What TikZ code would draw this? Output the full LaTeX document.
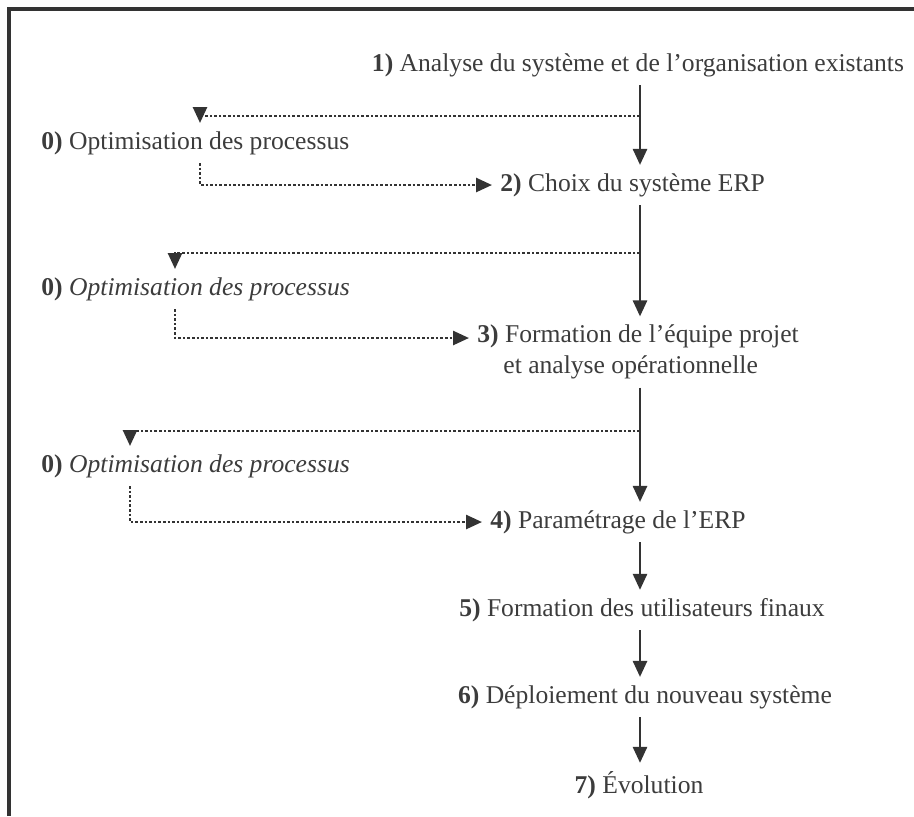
\documentclass[tikz,border=0pt]{standalone}
\usepackage{fontspec}
\setmainfont{Liberation Serif}
\usepackage{tikz}
\usetikzlibrary{arrows.meta, calc}

\definecolor{ink}{HTML}{3C3C3C}
\definecolor{wire}{HTML}{333333}

\begin{document}
\begin{tikzpicture}[
		x=0.5pt, y=-0.5pt,
		txt/.style={text=ink, font=\fontsize{12.8}{15.5}\selectfont, inner sep=4pt},
		flow/.style={wire, line width=1.3pt, -{Triangle[length=8pt, width=7pt]}},
		loop/.style={wire, line width=1.3pt, densely dotted, -{Triangle[length=8pt, width=7pt]}}
	]
	\useasboundingbox (0, 0) rectangle (914, 816);
	\draw[wire, line width=1.6pt] (9, 816) -- (9, 9) -- (914, 9);
	
	\coordinate (axis) at (640, 0);
	
	\node[txt] (s1) at (638, 65) {\textbf{1)} Analyse du système et de l’organisation existants};
	\node[txt, anchor=west] (o1) at (33, 143) {\textbf{0)} Optimisation des processus};
	\node[txt, anchor=west] (s2) at (492, 185) {\textbf{2)} Choix du système ERP};
	\node[txt, anchor=west] (o2) at (33, 289) {\textbf{0)} \textit{Optimisation des processus}};
	\node[txt, anchor=west, align=left] (s3) at (469, 352) {\textbf{3)} Formation de l’équipe projet\\\hspace{13pt}et analyse opérationnelle};
	\node[txt, anchor=west] (o3) at (33, 466) {\textbf{0)} \textit{Optimisation des processus}};
	\node[txt, anchor=west] (s4) at (482, 522) {\textbf{4)} Paramétrage de l’ERP};
	\node[txt] (s5) at (642, 610) {\textbf{5)} Formation des utilisateurs finaux};
	\node[txt] (s6) at (645, 697) {\textbf{6)} Déploiement du nouveau système};
	\node[txt] (s7) at (639, 785) {\textbf{7)} Évolution};
	
	\coordinate (j1) at (640, 116);
	\coordinate (k1) at (200, 116);
	\coordinate (j2) at (640, 253);
	\coordinate (k2) at (175, 253);
	\coordinate (j3) at (640, 431);
	\coordinate (k3) at (130, 431);
	
	\draw[flow] (s1.south -| axis) -- (s2.north -| axis);
	\draw[flow] (s2.south -| axis) -- (s3.north -| axis);
	\draw[flow] (s3.south -| axis) -- (s4.north -| axis);
	\draw[flow] (s4.south -| axis) -- (s5.north -| axis);
	\draw[flow] (s5.south -| axis) -- (s6.north -| axis);
	\draw[flow] (s6.south -| axis) -- (s7.north -| axis);
	
	\draw[loop] (j1) -- (k1) -- (o1.north -| k1);
	\draw[loop] (o1.south -| k1) |- (s2.west);
	\draw[loop] (j2) -- (k2) -- (o2.north -| k2);
	\draw[loop] (o2.south -| k2) |- (s3.west |- 0, 338);
	\draw[loop] (j3) -- (k3) -- (o3.north -| k3);
	\draw[loop] (o3.south -| k3) |- (s4.west);
	\end{tikzpicture}
\end{document}
